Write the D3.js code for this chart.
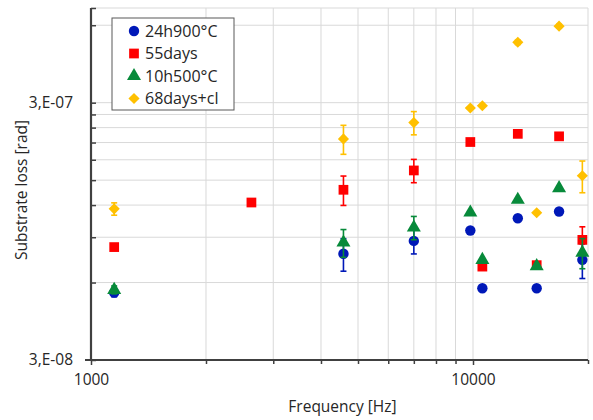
<!DOCTYPE html>
<html>
<head>
<meta charset="utf-8">
<script src="https://cdn.jsdelivr.net/npm/d3@7"></script>
<style>
  html, body { margin: 0; padding: 0; background: #fff; }
  svg { display: block; font-family: "Open Sans", "Liberation Sans", sans-serif; }
</style>
</head>
<body>
<svg id="chart" width="593" height="420"></svg>
<script>
// ---------- DATA ----------
const seriesNames = ["24h900°C", "55days", "10h500°C", "68days+cl"];

const freqBlue   = [1150, 4580, 7000, 9840, 10580, 13100, 14680, 16800, 19330];
const valueBlue  = [5.48e-8, 7.76e-8, 8.71e-8, 9.56e-8, 5.70e-8, 1.067e-7, 5.70e-8, 1.133e-7, 7.35e-8];
const errBlue    = [0.20e-8, 1.12e-8, 0.96e-8, 0, 0, 0, 0, 0, 1.13e-8];

const freqRed    = [1150, 2630, 4580, 7000, 9840, 10580, 13100, 14680, 16800, 19330];
const valueRed   = [8.24e-8, 1.228e-7, 1.376e-7, 1.636e-7, 2.11e-7, 6.92e-8, 2.27e-7, 7.01e-8, 2.22e-7, 8.79e-8];
const errRed     = [0.22e-8, 0, 1.8e-8, 1.7e-8, 0, 0, 0, 0, 0, 1.09e-8];

const freqGreen  = [1150, 4580, 7000, 9840, 10580, 13100, 14680, 16800, 19330];
const valueGreen = [5.62e-8, 8.58e-8, 9.82e-8, 1.123e-7, 7.35e-8, 1.258e-7, 6.95e-8, 1.397e-7, 7.84e-8];
const errGreen   = [0.20e-8, 1.06e-8, 1.02e-8, 0, 0, 0, 0, 0, 1.05e-8];

const freqYellow  = [1150, 4580, 7000, 9840, 10580, 13100, 14680, 16800, 19330];
const valueYellow = [1.16e-7, 2.17e-7, 2.51e-7, 2.86e-7, 2.92e-7, 5.15e-7, 1.12e-7, 5.95e-7, 1.56e-7];
const errYellow   = [0.064e-7, 0.28e-7, 0.26e-7, 0, 0, 0.1e-7, 0, 0.1e-7, 0.22e-7];

const xTickLabels = [1000, 10000];
const xMinorTicks = [2000, 3000, 4000, 5000, 6000, 7000, 8000, 9000, 20000];
const yTickLabels = [3e-8, 3e-7];
const yMinorTicks = [6e-8, 9e-8, 1.2e-7, 1.5e-7, 1.8e-7, 2.1e-7, 2.4e-7, 2.7e-7, 6e-7];

const xTitle = "Frequency [Hz]";
const yTitle = "Substrate loss [rad]";

// ---------- STYLE ----------
const colors  = ["#0018B8", "#FF0000", "#078A3A", "#FFC000"];
const diamond = { draw(ctx, size) {
  const r = Math.sqrt(size / 2);
  ctx.moveTo(0, -r); ctx.lineTo(r, 0); ctx.lineTo(0, r); ctx.lineTo(-r, 0); ctx.closePath();
} };
const symbols = [d3.symbolCircle, d3.symbolSquare, d3.symbolTriangle, diamond];
const symSize = [85, 95, 85, 62];

const series = [
  { name: seriesNames[0], f: freqBlue,   v: valueBlue,   e: errBlue },
  { name: seriesNames[1], f: freqRed,    v: valueRed,    e: errRed },
  { name: seriesNames[2], f: freqGreen,  v: valueGreen,  e: errGreen },
  { name: seriesNames[3], f: freqYellow, v: valueYellow, e: errYellow }
].map((s, i) => ({ ...s, color: colors[i], symbol: symbols[i], size: symSize[i],
  points: s.f.map((f, j) => ({ f, v: s.v[j], e: s.e[j] })) }));

const svg = d3.select("#chart");
const x = d3.scaleLog().domain([1000, 20000]).range([91, 588]);
const y = d3.scaleLog().domain([3e-8, 7e-7]).range([360, 8]);

const fmtY = d => {
  const e = Math.floor(Math.log10(d) + 1e-9);
  const m = Math.round(d / Math.pow(10, e));
  return m + ",E-" + String(-e).padStart(2, "0");
};

// gridlines
const grid = svg.append("g");
const allX = xTickLabels.concat(xMinorTicks);
const allY = yTickLabels.concat(yMinorTicks, [7e-7]);
grid.selectAll("line.gx").data(allX).join("line")
  .attr("x1", d => x(d)).attr("x2", d => x(d))
  .attr("y1", y.range()[0]).attr("y2", y.range()[1])
  .attr("stroke", "#d9d9d9").attr("stroke-width", 1);
grid.selectAll("line.gy").data(allY).join("line")
  .attr("y1", d => y(d)).attr("y2", d => y(d))
  .attr("x1", x.range()[0]).attr("x2", x.range()[1])
  .attr("stroke", "#d9d9d9").attr("stroke-width", 1);

// axes
const axisColor = "#404040";
const xAxisG = svg.append("g").attr("transform", `translate(0,${y.range()[0]})`);
xAxisG.call(d3.axisBottom(x).tickValues(xTickLabels).tickFormat(d3.format("d")).tickSize(5).tickPadding(9));
const xMinorG = svg.append("g").attr("transform", `translate(0,${y.range()[0]})`);
xMinorG.call(d3.axisBottom(x).tickValues(xMinorTicks).tickFormat("").tickSize(4));
xMinorG.select(".domain").remove();

const yAxisG = svg.append("g").attr("transform", `translate(${x.range()[0]},0)`);
yAxisG.call(d3.axisLeft(y).tickValues(yTickLabels).tickFormat(fmtY).tickSize(6).tickPadding(12));
yAxisG.selectAll(".tick line").attr("x2", 5);
const yMinorG = svg.append("g").attr("transform", `translate(${x.range()[0]},0)`);
yMinorG.call(d3.axisRight(y).tickValues(yMinorTicks.concat([7e-7])).tickFormat("").tickSize(5));
yMinorG.select(".domain").remove();

[xAxisG, xMinorG, yAxisG, yMinorG].forEach(g => {
  g.selectAll(".domain").attr("stroke", axisColor).attr("stroke-width", 2.2);
  g.selectAll(".tick line").attr("stroke", axisColor).attr("stroke-width", 1.5);
  g.selectAll(".tick text").attr("fill", "#262626").style("font-size", "15.5px")
    .style("font-family", "'Open Sans', sans-serif");
});
xAxisG.select(".domain").attr("d", `M${x.range()[0] - 6},0H${x.range()[1]}`);
yAxisG.select(".domain").attr("d", `M0,${y.range()[1]}V${y.range()[0]}`);

// titles
svg.append("text").text(xTitle)
  .attr("x", (x.range()[0] + x.range()[1]) / 2 + 3).attr("y", 412)
  .attr("text-anchor", "middle").attr("fill", "#262626").style("font-size", "15.5px");
svg.append("text").text(yTitle)
  .attr("transform", "translate(27,190) rotate(-90)")
  .attr("text-anchor", "middle").attr("fill", "#262626").style("font-size", "15.5px");

// data
const plot = svg.append("g");
series.forEach(s => {
  const g = plot.append("g");
  const eb = s.points.filter(p => p.e > 0);
  g.selectAll("line.eb").data(eb).join("line")
    .attr("x1", p => x(p.f)).attr("x2", p => x(p.f))
    .attr("y1", p => y(p.v + p.e)).attr("y2", p => y(p.v - p.e))
    .attr("stroke", s.color).attr("stroke-width", 1.6);
  ["+", "-"].forEach(sign => {
    g.selectAll("line.cap" + (sign === "+" ? "u" : "d")).data(eb).join("line")
      .attr("x1", p => x(p.f) - 3).attr("x2", p => x(p.f) + 3)
      .attr("y1", p => y(sign === "+" ? p.v + p.e : p.v - p.e))
      .attr("y2", p => y(sign === "+" ? p.v + p.e : p.v - p.e))
      .attr("stroke", s.color).attr("stroke-width", 1.6);
  });
  g.selectAll("path.pt").data(s.points).join("path")
    .attr("transform", p => `translate(${x(p.f)},${y(p.v)})`)
    .attr("d", d3.symbol().type(s.symbol).size(s.size))
    .attr("fill", s.color);
});

// legend
const lg = svg.append("g").attr("transform", "translate(112,18)");
lg.append("rect").attr("width", 122).attr("height", 92)
  .attr("fill", "#fff").attr("stroke", "#595959").attr("stroke-width", 1);
series.forEach((s, i) => {
  const row = lg.append("g").attr("transform", `translate(0,${13 + i * 22.5})`);
  row.append("path").attr("transform", "translate(22,0)")
    .attr("d", d3.symbol().type(s.symbol).size(s.size)).attr("fill", s.color);
  row.append("text").text(s.name).attr("x", 33).attr("y", 5.5)
    .attr("fill", "#262626").style("font-size", "16px");
});
</script>
</body>
</html>
